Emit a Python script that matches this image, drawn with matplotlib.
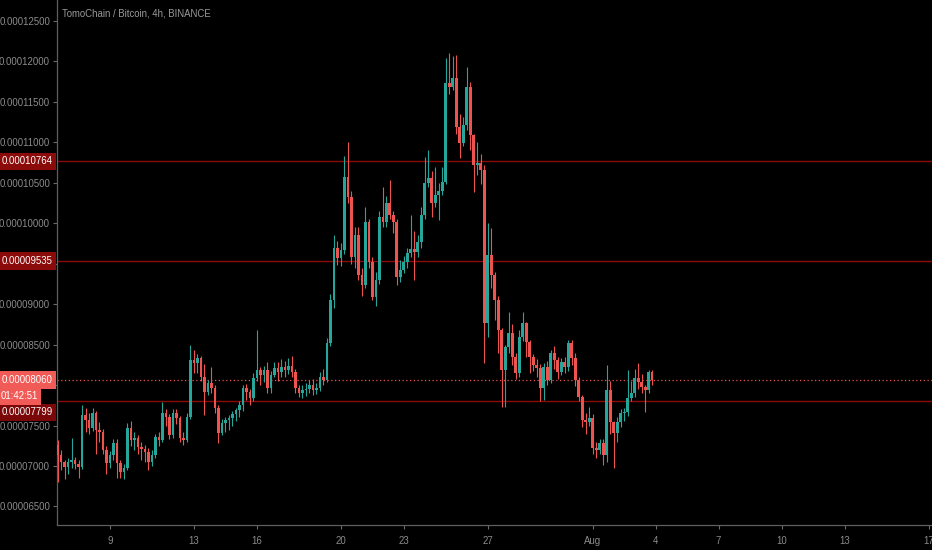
import numpy as np
import pandas as pd
import matplotlib
matplotlib.use("Agg")
import matplotlib.pyplot as plt
import matplotlib.transforms as mtransforms

plt.rcParams['font.family'] = ['Liberation Sans', 'DejaVu Sans']

# TOMO/BTC 4h candles, prices in satoshi (1e-8 BTC)
first_open = 7260
closes = [
    7136, 7050, 6988, 7050, 7074, 7025, 6988, 7631, 7569, 7470,
    7655, 7445, 7420, 7198, 7037, 7136, 7285, 7037, 6926, 6976,
    7470, 7322, 7346, 7235, 7210, 7173, 7050, 7136, 7359, 7322,
    7655, 7606, 7383, 7655, 7594, 7346, 7322, 7606, 8310, 8273,
    8335, 8100, 7915, 8026, 7964, 7717, 7408, 7532, 7569, 7594,
    7643, 7692, 7754, 7964, 7915, 7841, 8088, 8187, 8125, 8187,
    7964, 8125, 8212, 8162, 8224, 8187, 8236, 8162, 7964, 7903,
    7940, 7952, 8001, 7940, 7964, 8100, 8063, 8521, 9052, 9695,
    9571, 9670, 10572, 10325, 9583, 9855, 9361, 9237, 10016, 9522,
    9089, 9299, 10078, 10016, 10251, 10103, 10016, 9336, 9423, 9522,
    9633, 9682, 9645, 9769, 10103, 10498, 10560, 10251, 10350, 10399,
    10510, 11734, 11685, 11796, 11190, 10993, 11215, 11685, 11091, 10721,
    10745, 10659, 8768, 9608, 9361, 9052, 8681, 8187, 8471, 8644,
    8347, 8150, 8595, 8768, 8533, 8347, 8249, 8212, 7964, 8224,
    8063, 8397, 8310, 8162, 8286, 8224, 8521, 8335, 8063, 7853,
    7569, 7544, 7594, 7223, 7198, 7285, 7136, 7940, 7544, 7408,
    7544, 7655, 7668, 7841, 7903, 8088, 8038, 7977, 7940, 8162,
    8063,
]
highs = [
    7322, 7198, 7074, 7100, 7346, 7110, 7074, 7754, 7720, 7660,
    7720, 7680, 7550, 7460, 7250, 7180, 7330, 7340, 7080, 7030,
    7530, 7560, 7420, 7380, 7300, 7260, 7220, 7200, 7400, 7420,
    7790, 7700, 7640, 7700, 7700, 7620, 7420, 7660, 8496, 8440,
    8380, 8360, 8260, 8060, 8224, 8000, 7750, 7580, 7600, 7630,
    7680, 7720, 7800, 8000, 8010, 7950, 8150, 8680, 8230, 8240,
    8280, 8180, 8290, 8280, 8320, 8300, 8330, 8360, 8200, 8000,
    8000, 8030, 8060, 8080, 8020, 8160, 8200, 8580, 9120, 9850,
    9780, 9760, 10830, 11000, 10400, 9950, 9950, 9450, 10200, 10050,
    9580, 9400, 10150, 10449, 10340, 10535, 10150, 10050, 9550, 9600,
    9700, 10100, 9900, 9850, 10200, 10820, 10906, 10650, 10700, 10500,
    10700, 12040, 12105, 12070, 12080, 11350, 11320, 11932, 11750, 11100,
    11000, 10860, 10720, 10000, 9942, 9400, 9100, 8700, 8500, 8900,
    8750, 8400, 8680, 8904, 8780, 8560, 8380, 8320, 8260, 8270,
    8300, 8440, 8480, 8350, 8340, 8350, 8560, 8560, 8400, 8100,
    7880, 7650, 7730, 7640, 7300, 7330, 7330, 8249, 8050, 7560,
    7600, 7700, 7720, 8187, 8050, 8200, 8273, 8140, 8000, 8190,
    8190,
]
lows = [
    6803, 6950, 6840, 6900, 6980, 6960, 6850, 6960, 7420, 7400,
    7430, 7150, 7300, 7150, 6900, 6980, 7080, 6852, 6850, 6840,
    6950, 7250, 7200, 7150, 7080, 7050, 6950, 7000, 7100, 7250,
    7300, 7500, 7330, 7350, 7520, 7300, 7260, 7300, 7580, 8150,
    8150, 8050, 7630, 7880, 7900, 7650, 7285, 7380, 7420, 7450,
    7500, 7560, 7600, 7680, 7820, 7750, 7800, 8050, 8000, 8040,
    7900, 7900, 8100, 8050, 8100, 8100, 8140, 8100, 7900, 7850,
    7840, 7870, 7900, 7880, 7890, 7930, 8000, 8040, 8480, 8950,
    9480, 9470, 9620, 10250, 9500, 9450, 9300, 9100, 9200, 9450,
    9050, 8980, 9250, 9950, 9950, 10050, 9880, 9240, 9280, 9380,
    9450, 9580, 9300, 9580, 9700, 10050, 10450, 10080, 10200, 10041,
    10350, 10480, 11600, 11650, 11100, 10807, 10950, 11150, 10900, 10387,
    10600, 10480, 8273, 8600, 9200, 8800, 8400, 7729, 7729, 8400,
    8250, 8080, 8100, 8550, 8350, 8150, 8180, 8100, 7800, 7816,
    8000, 8030, 8200, 8080, 8120, 8150, 8180, 8250, 7990, 7800,
    7480, 7400, 7500, 7150, 7099, 7150, 7008, 7050, 7400, 6975,
    7297, 7480, 7560, 7620, 7800, 7850, 7950, 7900, 7668, 7900,
    8000,
]

level_lines = [10764, 9535, 7799]
last_price = 8060
countdown = "01:42:51"
title = "TomoChain / Bitcoin, 4h, BINANCE"

start_time = "2019-07-06 12:00"
tick_dates = ["2019-07-09", "2019-07-13", "2019-07-16", "2019-07-20", "2019-07-23",
              "2019-07-27", "2019-08-01", "2019-08-04", "2019-08-07", "2019-08-10",
              "2019-08-13", "2019-08-17"]
tick_labels = ["9", "13", "16", "20", "23", "27", "Aug", "4", "7", "10", "13", "17"]
price_ticks = [6500, 7000, 7500, 8000, 8500, 9000, 9500, 10000, 10500, 11000, 11500, 12000, 12500]

UP = '#26a69a'
DOWN = '#ef5350'
BG = '#000000'
GREY = '#8c8c8c'
LEVEL = '#8b0a0a'
LAST = '#f05a57'
FS = 6.9

sat = 1e-8
c = np.array(closes) * sat
o = np.concatenate([[first_open], closes[:-1]]) * sat
h = np.array(highs) * sat
l = np.array(lows) * sat

t0 = pd.Timestamp(start_time)
x = np.arange(len(closes))
tick_x = (pd.to_datetime(tick_dates) - t0) / pd.Timedelta("4h")

colors = [UP if cc >= oo else DOWN for oo, cc in zip(o, c)]
body = c - o
body = np.where(np.abs(body) < 8 * sat, np.where(body >= 0, 8 * sat, -8 * sat), body)

fig = plt.figure(figsize=(9.32, 5.5), dpi=100, facecolor=BG)
ax = fig.add_axes([57 / 932, 25 / 550, 875 / 932, 525 / 550])
ax.set_facecolor(BG)

ax.vlines(x, l, h, colors=colors, linewidth=0.8, zorder=3)
ax.bar(x, body, bottom=o, width=0.76, color=colors, linewidth=0, zorder=4)

for lv in level_lines:
    ax.axhline(lv * sat, color=LEVEL, linewidth=1.0, zorder=2)
ax.axhline(last_price * sat, color=DOWN, linewidth=0.9, linestyle=(0, (1, 2)), zorder=2)

ax.set_xlim(-0.15, 250)
ax.set_ylim(6271 * sat, 12760 * sat)

ax.set_yticks([p * sat for p in price_ticks])
ax.set_yticklabels([f"{p * sat:.8f}" for p in price_ticks])
ax.set_xticks(tick_x)
ax.set_xticklabels(tick_labels)
ax.tick_params(axis='both', colors='#6a6a6a', labelcolor=GREY, labelsize=FS, length=3, width=0.8)
ax.tick_params(axis='y', pad=2)
ax.tick_params(axis='x', pad=5)

for side in ['top', 'right']:
    ax.spines[side].set_visible(False)
for side in ['left', 'bottom']:
    ax.spines[side].set_color('#5f5f5f')
    ax.spines[side].set_linewidth(0.9)

# price labels on the axis; the 7799 one is pushed down under the countdown
trans = mtransforms.blended_transform_factory(ax.transAxes, ax.transData)
label_boxes = [(10764, LEVEL, 0), (9535, LEVEL, 0), (7799, '#7a0808', -8), (last_price, LAST, 0)]
for lv, fc, dy in label_boxes:
    ax.annotate(f"{lv * sat:.8f}", xy=(0, lv * sat), xycoords=trans, xytext=(-3.2, dy),
                textcoords='offset points', ha='right', va='center', color='white',
                fontsize=FS, annotation_clip=False, zorder=10,
                bbox=dict(boxstyle='square,pad=0.4', fc=fc, ec='none'))
ax.annotate(countdown, xy=(0, last_price * sat), xycoords=trans, xytext=(-14, -11.3),
            textcoords='offset points', ha='right', va='center', color='white',
            fontsize=FS, annotation_clip=False, zorder=11,
            bbox=dict(boxstyle='square,pad=0.4', fc=LAST, ec='none'))

fig.text(62 / 932, 1 - 14 / 550, title, color='#9a9a9a', fontsize=FS, va='center', ha='left')

fig.savefig('out.png', dpi=100, facecolor=BG)
